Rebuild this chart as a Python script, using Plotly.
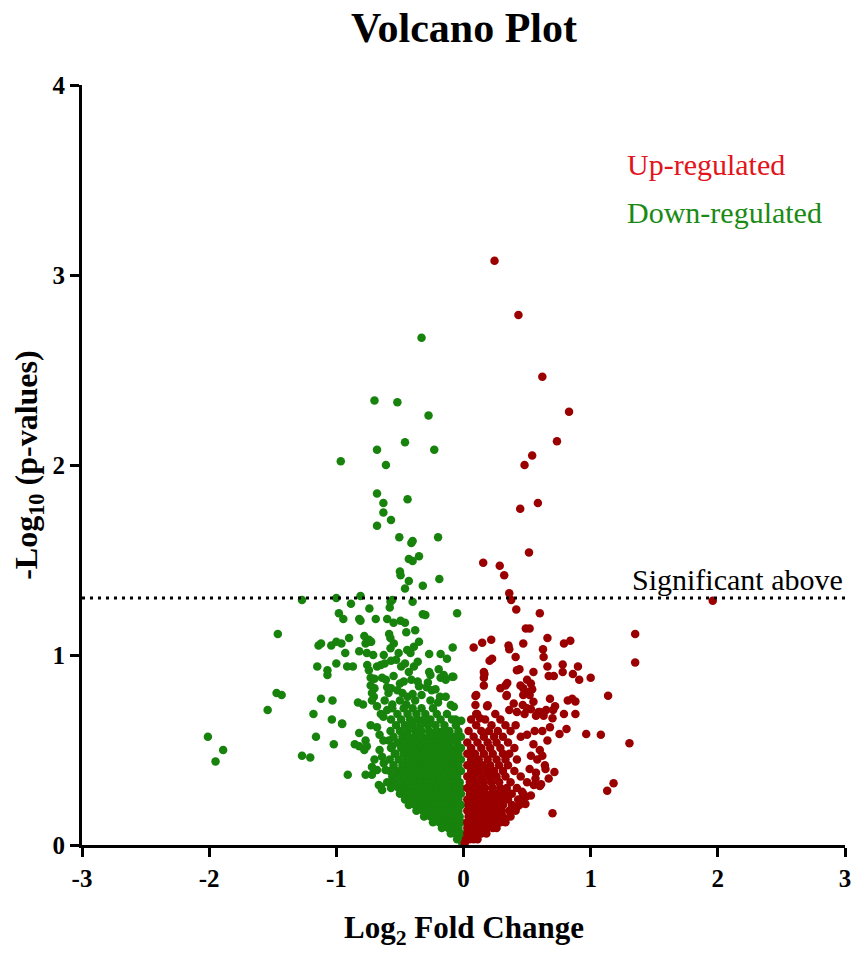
import plotly.graph_objects as go

# ---------------- data ----------------
# (log2 fold change, -log10 p) pairs
down_periphery = [
    (-0.33, 2.67), (-0.70, 2.34), (-0.52, 2.33), (-0.275, 2.26), (-0.46, 2.12), (-0.68, 2.08), (-0.23, 2.08),
    (-0.965, 2.02), (-0.61, 2.00),
    (-0.68, 1.85), (-0.44, 1.82), (-0.63, 1.80), (-0.63, 1.75), (-0.57, 1.71), (-0.68, 1.68), (-0.505, 1.62),
    (-0.20, 1.62), (-0.40, 1.60), (-0.41, 1.59), (-0.35, 1.52), (-0.43, 1.505), (-0.40, 1.495), (-0.50, 1.44),
    (-0.495, 1.42), (-0.43, 1.39), (-0.19, 1.40), (-0.32, 1.365), (-0.46, 1.35),
    (-1.27, 1.29), (-1.00, 1.30), (-0.81, 1.31), (-0.56, 1.29), (-0.40, 1.28), (-0.885, 1.27), (-0.74, 1.245),
    (-0.58, 1.25), (-0.574, 1.28), (-0.05, 1.22), (-0.98, 1.22), (-0.945, 1.19), (-0.82, 1.19), (-0.81, 1.18),
    (-0.69, 1.19), (-0.60, 1.19), (-0.55, 1.17), (-0.495, 1.18), (-0.46, 1.17), (-0.32, 1.215), (-0.30, 1.21),
    (-1.46, 1.11), (-0.90, 1.09), (-0.78, 1.10), (-0.585, 1.11), (-0.575, 1.09), (-0.45, 1.12), (-0.38, 1.13),
    (-0.744, 1.08), (-0.726, 1.07), (-1.14, 1.05), (-1.12, 1.06), (-1.04, 1.05), (-1.00, 1.07), (-0.96, 1.06),
    (-0.93, 1.01), (-0.82, 1.02), (-0.77, 1.06), (-0.73, 1.07), (-0.76, 1.01), (-0.71, 1.00), (-0.627, 1.00),
    (-0.574, 1.035), (-0.548, 1.06), (-0.51, 1.01), (-0.443, 1.026), (-0.417, 1.01), (-0.39, 1.044), (-0.35, 1.07),
    (-0.27, 1.005), (-0.18, 1.005), (-0.13, 0.98), (-0.085, 1.04),
    (-1.15, 0.94), (-1.07, 0.92), (-1.07, 0.895), (-1.00, 0.955), (-0.915, 0.94), (-0.87, 0.94), (-0.757, 0.947),
    (-0.744, 0.92), (-0.68, 0.94), (-0.65, 0.947), (-0.62, 0.955), (-0.57, 0.97), (-0.53, 0.975), (-0.49, 0.94),
    (-0.46, 0.955), (-0.43, 0.91), (-0.39, 0.94), (-0.36, 0.965), (-0.27, 0.91), (-0.26, 0.895), (-0.195, 0.925),
    (-0.18, 0.88), (-0.089, 0.886), (-0.155, 0.895), (-0.08, 0.886),
    (-0.73, 0.88), (-0.70, 0.875), (-0.64, 0.88), (-0.61, 0.87), (-0.55, 0.89), (-0.50, 0.85), (-0.47, 0.86),
    (-0.41, 0.87), (-0.36, 0.86), (-0.35, 0.835), (-0.14, 0.87),
    (-0.73, 0.84), (-0.70, 0.825), (-0.72, 0.80), (-0.60, 0.83), (-0.59, 0.80), (-0.57, 0.825), (-0.52, 0.815),
    (-0.48, 0.80), (-0.44, 0.78), (-0.40, 0.795), (-0.29, 0.83), (-0.28, 0.855), (-0.25, 0.815), (-0.22, 0.82),
    (-0.185, 0.78), (-0.14, 0.78), (-0.10, 0.737), (-0.076, 0.728), (-0.063, 0.66), (-0.018, 0.654),
    (-0.076, 0.56), (-0.037, 0.51),
    (-2.01, 0.57), (-1.89, 0.50), (-1.95, 0.44), (-1.47, 0.80), (-1.43, 0.79), (-1.54, 0.71), (-1.27, 0.47),
    (-1.205, 0.46), (-1.12, 0.77), (-1.03, 0.76), (-1.18, 0.69), (-1.035, 0.66), (-0.955, 0.64), (-1.16, 0.57),
    (-1.02, 0.53), (-0.91, 0.37), (-0.83, 0.75), (-0.79, 0.74), (-0.82, 0.59), (-0.855, 0.53), (-0.82, 0.52),
    (-0.77, 0.55), (-0.76, 0.52), (-0.78, 0.50), (-0.77, 0.37), (-0.73, 0.63), (-0.954, 0.637),
    (-0.64, 0.465), (-0.627, 0.43), (-0.613, 0.395), (-0.68, 0.395), (-0.72, 0.37), (-0.666, 0.316),
    (-0.65, 0.307), (-0.64, 0.29), (-0.587, 0.55), (-0.56, 0.52), (-0.535, 0.48), (-0.574, 0.60), (-0.68, 0.62),
    (-0.68, 0.73), (-0.65, 0.69), (-0.63, 0.675), (-0.60, 0.71), (-0.705, 0.78), (-0.72, 0.41), (-0.70, 0.45),
    (-0.66, 0.50), (-0.63, 0.55), (-0.66, 0.58), (-0.72, 0.76), (-0.62, 0.76), (-0.56, 0.74), (-0.50, 0.76),
    (-0.45, 0.74), (-0.38, 0.76), (-0.33, 0.79), (-0.26, 0.76), (-0.20, 0.75),
]

# dense core of the down-regulated cloud: rows of (-log10 p, [log2 FC ...])
down_core_rows = [
    (0.72, [-0.56, -0.47, -0.40, -0.33, -0.24]),
    (0.69, [-0.52, -0.44, -0.37, -0.30, -0.21, -0.13]),
    (0.66, [-0.57, -0.49, -0.42, -0.36, -0.31, -0.26, -0.18, -0.09]),
    (0.63, [-0.53, -0.46, -0.40, -0.34, -0.28, -0.22, -0.15, -0.06]),
    (0.60, [-0.50, -0.44, -0.38, -0.33, -0.27, -0.21, -0.16, -0.11, -0.04]),
    (0.57, [-0.55, -0.48, -0.43, -0.38, -0.33, -0.28, -0.24, -0.19, -0.13, -0.07, -0.02]),
    (0.54, [-0.52, -0.46, -0.41, -0.36, -0.31, -0.26, -0.21, -0.16, -0.11, -0.05]),
    (0.51, [-0.57, -0.49, -0.44, -0.39, -0.34, -0.29, -0.24, -0.20, -0.15, -0.10, -0.06, -0.02]),
    (0.48, [-0.54, -0.47, -0.42, -0.37, -0.32, -0.27, -0.22, -0.18, -0.13, -0.08, -0.04]),
    (0.45, [-0.58, -0.51, -0.45, -0.40, -0.35, -0.30, -0.25, -0.21, -0.16, -0.11, -0.06, -0.02]),
    (0.42, [-0.55, -0.48, -0.43, -0.38, -0.33, -0.28, -0.23, -0.19, -0.14, -0.09, -0.04]),
    (0.39, [-0.58, -0.52, -0.46, -0.41, -0.36, -0.31, -0.26, -0.21, -0.17, -0.12, -0.07, -0.02]),
    (0.36, [-0.56, -0.50, -0.44, -0.39, -0.34, -0.29, -0.24, -0.19, -0.15, -0.10, -0.05]),
    (0.33, [-0.60, -0.54, -0.48, -0.43, -0.38, -0.33, -0.28, -0.23, -0.18, -0.13, -0.08, -0.03]),
    (0.30, [-0.57, -0.51, -0.46, -0.41, -0.36, -0.31, -0.26, -0.21, -0.16, -0.11, -0.06, -0.02]),
    (0.27, [-0.50, -0.45, -0.40, -0.35, -0.30, -0.25, -0.20, -0.15, -0.10, -0.06, -0.02]),
    (0.24, [-0.46, -0.42, -0.37, -0.32, -0.27, -0.22, -0.17, -0.12, -0.08, -0.04]),
    (0.21, [-0.43, -0.38, -0.33, -0.28, -0.23, -0.18, -0.14, -0.09, -0.05, -0.02]),
    (0.18, [-0.37, -0.32, -0.27, -0.22, -0.17, -0.12, -0.08, -0.04]),
    (0.15, [-0.31, -0.26, -0.21, -0.16, -0.12, -0.07, -0.03]),
    (0.12, [-0.24, -0.19, -0.14, -0.10, -0.06, -0.02]),
    (0.09, [-0.17, -0.12, -0.08, -0.04]),
    (0.06, [-0.10, -0.06, -0.02]),
    (0.03, [-0.05, -0.02]),
    (0.01, [-0.01]),
]

up_periphery = [
    (0.244, 3.075), (0.432, 2.79), (0.62, 2.465), (0.83, 2.28), (0.735, 2.125), (0.54, 2.05), (0.48, 2.00),
    (0.446, 1.77), (0.585, 1.80), (0.515, 1.54), (0.155, 1.485), (0.285, 1.47), (0.32, 1.42), (0.36, 1.325),
    (0.375, 1.29), (0.415, 1.24), (0.60, 1.22), (0.49, 1.14), (0.52, 1.14), (1.35, 1.11), (1.35, 0.96),
    (1.96, 1.285), (1.305, 0.535),
    (0.08, 1.04), (0.147, 1.065), (0.218, 1.08), (0.354, 1.05), (0.36, 1.03), (0.47, 1.06), (0.66, 1.09),
    (0.625, 1.03), (0.63, 0.99), (0.79, 1.06), (0.84, 1.075), (0.205, 0.97), (0.225, 0.98), (0.41, 0.99),
    (0.42, 0.92), (0.44, 0.925), (0.55, 0.91), (0.66, 0.94), (0.78, 0.95), (0.78, 0.91), (0.90, 0.94),
    (0.86, 0.90), (0.16, 0.91), (0.67, 0.89), (0.71, 0.89), (1.00, 0.88), (0.91, 0.87),
    (0.165, 0.90), (0.16, 0.88), (0.16, 0.84), (0.29, 0.825), (0.33, 0.84), (0.344, 0.852), (0.448, 0.84),
    (0.47, 0.825), (0.513, 0.805), (0.50, 0.87), (0.53, 0.85), (0.54, 0.82),
    (0.10, 0.79), (0.094, 0.784), (0.338, 0.784), (0.34, 0.79), (0.47, 0.79), (0.52, 0.79), (0.68, 0.77),
    (1.137, 0.785), (0.82, 0.76), (0.855, 0.77), (0.88, 0.755),
    (0.094, 0.737), (0.19, 0.735), (0.186, 0.73), (0.395, 0.745), (0.466, 0.737), (0.55, 0.754), (0.36, 0.71),
    (0.50, 0.72), (0.53, 0.715), (0.60, 0.70), (0.59, 0.70), (0.72, 0.73), (0.705, 0.71), (0.65, 0.71),
    (0.79, 0.69), (0.88, 0.69), (0.10, 0.69), (0.107, 0.69), (0.13, 0.667), (0.25, 0.69), (0.70, 0.667),
    (0.63, 0.68), (0.57, 0.68), (0.48, 0.69), (0.42, 0.70),
    (0.755, 0.584), (0.81, 0.61), (0.965, 0.584), (1.08, 0.58), (0.64, 0.42), (0.645, 0.40), (0.715, 0.384),
    (0.67, 0.35), (0.566, 0.35), (0.553, 0.316), (0.60, 0.31), (0.493, 0.254), (0.487, 0.216), (0.42, 0.20),
    (1.18, 0.325), (1.13, 0.286), (0.70, 0.167),
    (0.61, 0.32), (0.60, 0.50), (0.62, 0.47), (0.66, 0.55), (0.56, 0.60), (0.58, 0.45), (0.52, 0.40),
    (0.55, 0.53), (0.50, 0.58), (0.62, 0.60), (0.68, 0.62), (0.53, 0.47), (0.57, 0.38), (0.50, 0.33),
    (0.46, 0.28), (0.53, 0.26), (0.45, 0.24),
]

up_core_rows = [
    (0.66, [0.06, 0.17, 0.29]),
    (0.63, [0.10, 0.22, 0.33, 0.41]),
    (0.60, [0.04, 0.14, 0.20, 0.27, 0.37]),
    (0.57, [0.08, 0.16, 0.24, 0.31, 0.45]),
    (0.54, [0.03, 0.11, 0.19, 0.26, 0.35]),
    (0.51, [0.06, 0.14, 0.21, 0.29, 0.40]),
    (0.48, [0.03, 0.09, 0.16, 0.23, 0.31, 0.36]),
    (0.45, [0.06, 0.12, 0.19, 0.26, 0.33, 0.42]),
    (0.42, [0.03, 0.09, 0.15, 0.21, 0.28, 0.35]),
    (0.39, [0.06, 0.12, 0.18, 0.24, 0.31, 0.40]),
    (0.36, [0.03, 0.08, 0.14, 0.20, 0.26, 0.33, 0.45]),
    (0.33, [0.05, 0.10, 0.16, 0.22, 0.28, 0.37]),
    (0.30, [0.03, 0.07, 0.12, 0.17, 0.23, 0.29, 0.34, 0.42]),
    (0.27, [0.05, 0.09, 0.13, 0.17, 0.22, 0.27, 0.32, 0.38, 0.47]),
    (0.24, [0.03, 0.07, 0.11, 0.15, 0.19, 0.24, 0.29, 0.35, 0.43]),
    (0.21, [0.04, 0.08, 0.12, 0.16, 0.21, 0.26, 0.31, 0.38, 0.44]),
    (0.18, [0.03, 0.07, 0.11, 0.15, 0.19, 0.24, 0.30, 0.36, 0.41]),
    (0.15, [0.04, 0.08, 0.12, 0.16, 0.21, 0.26, 0.31, 0.37]),
    (0.12, [0.03, 0.07, 0.11, 0.15, 0.19, 0.24, 0.29, 0.33]),
    (0.09, [0.03, 0.07, 0.11, 0.15, 0.19, 0.23, 0.26]),
    (0.06, [0.03, 0.07, 0.11, 0.14, 0.18]),
    (0.03, [0.02, 0.05, 0.08, 0.11]),
    (0.01, [0.01]),
]

x_ticks = [-3, -2, -1, 0, 1, 2, 3]
y_ticks = [0, 1, 2, 3, 4]
significance_threshold = 1.3

title_text = "Volcano Plot"
x_title = "Log<sub>2</sub> Fold Change"
y_title = "-Log<sub>10</sub> (p-values)"
up_label = "Up-regulated"
down_label = "Down-regulated"
sig_label = "Significant above"

# ---------------- build ----------------
def expand(periphery, rows):
    xs = [p[0] for p in periphery]
    ys = [p[1] for p in periphery]
    for yv, row in rows:
        for xv in row:
            xs.append(xv)
            ys.append(yv)
    return xs, ys

down_x, down_y = expand(down_periphery, down_core_rows)
up_x, up_y = expand(up_periphery, up_core_rows)

GREEN = "#17820c"
RED = "#9a0000"
FONT = "Liberation Serif"

fig = go.Figure()
fig.add_trace(go.Scatter(x=down_x, y=down_y, mode="markers", cliponaxis=False,
                         marker=dict(size=8.5, color=GREEN, line=dict(width=0)),
                         name=down_label, showlegend=False))
fig.add_trace(go.Scatter(x=up_x, y=up_y, mode="markers", cliponaxis=False,
                         marker=dict(size=8.5, color=RED, line=dict(width=0)),
                         name=up_label, showlegend=False))

fig.add_shape(type="line", xref="x", yref="y", x0=x_ticks[0], x1=x_ticks[-1],
              y0=significance_threshold, y1=significance_threshold,
              line=dict(color="black", width=3, dash="3px,5px"))

fig.add_annotation(x=x_ticks[-1], y=significance_threshold, xref="x", yref="y",
                   text=sig_label, showarrow=False, xanchor="right", yanchor="bottom",
                   yshift=0, font=dict(family=FONT, size=30, color="black"))
fig.add_annotation(x=1.27, y=3.58, xref="x", yref="y", text=up_label, showarrow=False,
                   xanchor="left", yanchor="middle",
                   font=dict(family=FONT, size=30, color="#e3141c"))
fig.add_annotation(x=1.27, y=3.33, xref="x", yref="y", text=down_label, showarrow=False,
                   xanchor="left", yanchor="middle",
                   font=dict(family=FONT, size=30, color="#1a8a14"))

fig.add_annotation(x=0.5, y=1.075, xref="paper", yref="paper", text="<b>%s</b>" % title_text,
                   showarrow=False, xanchor="center", yanchor="middle",
                   font=dict(family=FONT, size=42, color="black"))
fig.add_annotation(x=0.5, y=-0.112, xref="paper", yref="paper", text="<b>%s</b>" % x_title,
                   showarrow=False, xanchor="center", yanchor="middle",
                   font=dict(family=FONT, size=31, color="black"))
fig.add_annotation(x=-0.071, y=0.5, xref="paper", yref="paper", text="<b>%s</b>" % y_title,
                   showarrow=False, xanchor="center", yanchor="middle", textangle=-90,
                   font=dict(family=FONT, size=32, color="black"))

axis_common = dict(showgrid=False, zeroline=False, showline=True, linecolor="black", linewidth=3,
                   ticks="outside", ticklen=9, tickwidth=3, tickcolor="black", automargin=False,
                   tickfont=dict(family=FONT, size=25, color="black", weight="bold"))

fig.update_xaxes(range=[x_ticks[0], x_ticks[-1]], tickvals=x_ticks, ticktext=[str(t) for t in x_ticks],
                 **axis_common)
fig.update_yaxes(range=[y_ticks[0], y_ticks[-1]], tickvals=y_ticks, ticktext=[str(t) for t in y_ticks],
                 **axis_common)

fig.update_layout(width=855, height=954, margin=dict(l=82, r=10, t=85, b=109, autoexpand=False),
                  plot_bgcolor="white", paper_bgcolor="white", showlegend=False)

fig.write_html("out.html")
